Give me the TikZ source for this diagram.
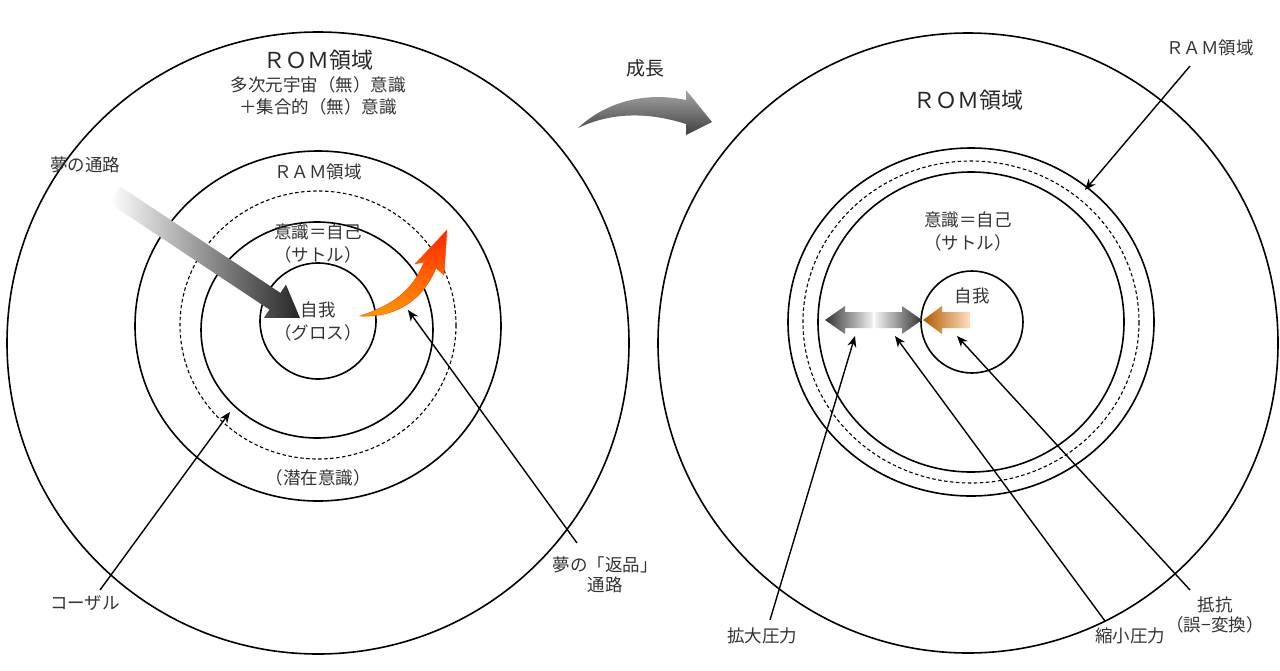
\documentclass[tikz,border=0pt]{standalone}
\usepackage{fontspec}
\setmainfont{Noto Sans CJK JP}
\usetikzlibrary{arrows.meta}
\begin{document}
\begin{tikzpicture}[x=1pt,y=-1pt,
  ring/.style={draw=black,line width=1.6pt},
  dring/.style={draw=black,line width=1.1pt,dash pattern=on 3.5pt off 2.5pt},
  lbl/.style={font=\fontsize{17.5}{20}\selectfont,text=black!80,align=center,inner sep=1pt},
  big/.style={font=\fontsize{22}{24}\selectfont,text=black!85,inner sep=1pt},
  ptr/.style={draw=black,line width=1.4pt,-{Stealth[length=11pt,width=9pt]}}]
\useasboundingbox (0,0) rectangle (1280,670);
% left diagram
\draw[ring] (318,343) circle (311);
\draw[ring] (318,326) ellipse (183 and 175);
\draw[dring] (318,325) ellipse (138 and 134);
\draw[ring] (317,330) ellipse (116 and 108);
\draw[ring] (318,321) circle (58);
\node[big] (rom1) at (318,60) {ＲＯＭ領域};
\node[lbl] (t1) at (318,85) {多次元宇宙（無）意識};
\node[lbl] (t2) at (318,107) {＋集合的（無）意識};
\node[lbl] (ram1) at (318,172) {ＲＡＭ領域};
\node[lbl] (ish1) at (318,232) {意識＝自己};
\node[lbl] (sa1) at (318,255) {（サトル）};
\node[lbl] (ego1) at (318,310) {自我};
\node[lbl] (gr1) at (318,333) {（グロス）};
\node[lbl] (sen) at (318,478) {（潜在意識）};
\node[lbl] (yume) at (85,165) {夢の通路};
\node[lbl] (cau) at (85,603) {コーザル};
\node[lbl] (hen) at (605,575) {夢の「返品」\\通路};
\coordinate (cauT) at (230,412);
\coordinate (henT) at (408,310);
\draw[ptr] (100,590) -- (cauT);
\draw[ptr] (577,543) -- (henT);
% gray arrow
\begin{scope}[shift={(115,195)},rotate=-33.6]
\shade[left color=white,right color=black!85]
 (0,-10) -- (192,-10) -- (192,-20) -- (222,0) -- (192,20) -- (192,10) -- (0,10) -- cycle;
\end{scope}
% orange curved arrow
\shade[top color=red!70!orange,bottom color=orange!80!yellow,draw=orange!60!red,line width=0.4pt]
 (360,316) .. controls (392,305) and (412,292) .. (424,262)
 -- (415,264) -- (447,230) -- (444,275) -- (436,268)
 .. controls (424,298) and (398,318) .. (360,316) -- cycle;
% growth arrow
\node[font=\fontsize{19}{21}\selectfont,text=black!85] (grow) at (645,68) {成長};
\shade[top color=black!35,bottom color=black!75]
 (578,128) .. controls (608,100) and (648,92) .. (686,100)
 -- (686,90) -- (712,122) -- (686,135) -- (686,124)
 .. controls (648,112) and (612,112) .. (578,128) -- cycle;
% right diagram
\draw[ring] (968,343) circle (310);
\draw[ring] (971,322) ellipse (183 and 174);
\draw[dring] (971,322) ellipse (168 and 161);
\draw[ring] (971,322) ellipse (153 and 150);
\draw[ring] (972,322) circle (51);
\node[big] (rom2) at (968,100) {ＲＯＭ領域};
\node[lbl] (ram2) at (1210,48) {ＲＡＭ領域};
\node[lbl] (ish2) at (968,220) {意識＝自己};
\node[lbl] (sa2) at (968,243) {（サトル）};
\node[lbl] (ego2) at (972,296) {自我};
\node[lbl] (kak) at (762,636) {拡大圧力};
\node[lbl] (shu) at (1130,636) {縮小圧力};
\node[lbl] (tei) at (1215,615) {抵抗\\（誤−変換）};
\coordinate (ramT) at (1085,190);
\coordinate (kakT) at (855,336);
\coordinate (shuT) at (895,336);
\coordinate (teiT) at (957,336);
\draw[ptr] (1190,66) -- (ramT);
\draw[ptr] (770,620) -- (kakT);
\draw[ptr] (1105,621) -- (shuT);
\draw[ptr] (1190,590) -- (teiT);
% double gray arrow
\shade[left color=black!80,right color=black!5]
 (825,320) -- (845,306) -- (845,312) -- (873,312) -- (873,328) -- (845,328) -- (845,334) -- cycle;
\shade[left color=black!5,right color=black!80]
 (922,320) -- (902,306) -- (902,312) -- (875,312) -- (875,328) -- (902,328) -- (902,334) -- cycle;
% orange arrow
\shade[left color=orange!70!black,right color=orange!25]
 (923,320) -- (942,306) -- (942,312) -- (970,312) -- (970,328) -- (942,328) -- (942,334) -- cycle;
\end{tikzpicture}
\end{document}
